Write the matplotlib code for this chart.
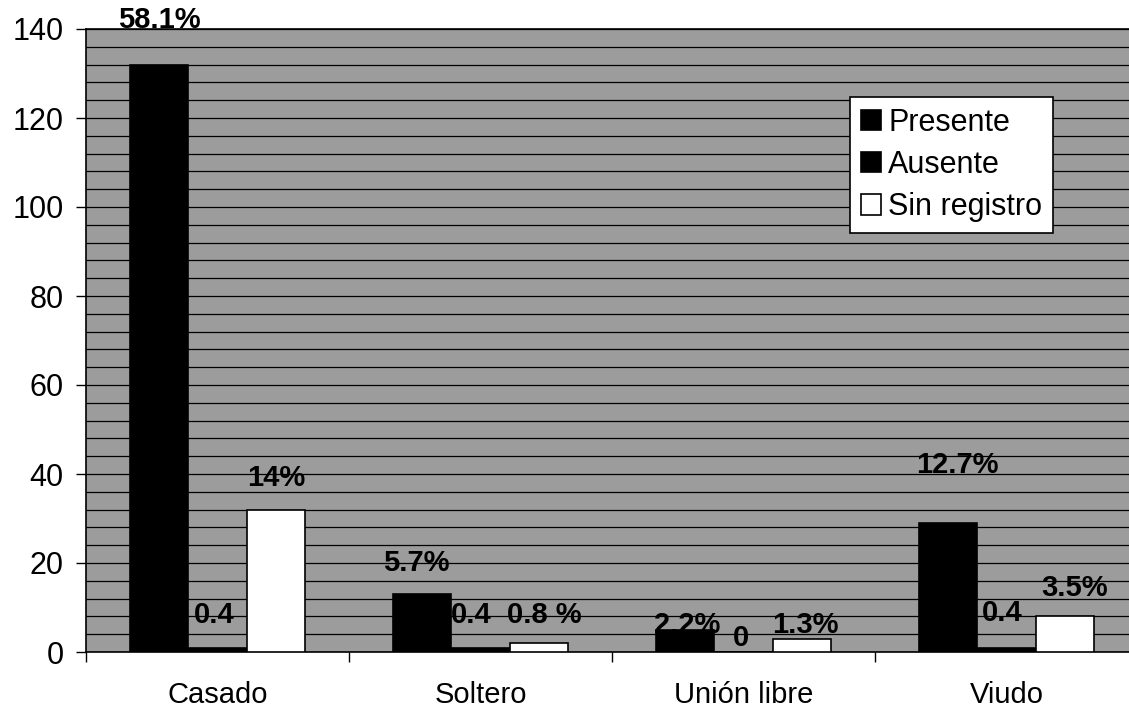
import numpy as np
import matplotlib
matplotlib.use("Agg")
import matplotlib.pyplot as plt
from matplotlib.patches import Patch

plt.rcParams['font.family'] = ['Liberation Sans', 'DejaVu Sans']

categories = ["Casado", "Soltero", "Unión libre", "Viudo"]
series_names = ["Presente", "Ausente", "Sin registro"]
presente = [132, 13, 5, 29]
ausente = [1, 1, 0, 1]
sin_registro = [32, 2, 3, 8]
labels_presente = ["58.1%", "5.7%", "2.2%", "12.7%"]
labels_ausente = ["0.4", "0.4", "0", "0.4"]
labels_sin = ["14%", "0.8 %", "1.3%", "3.5%"]

# label offsets (pixels from bar top centre)
dy_presente = [45, 31, 5, 58]
dy_ausente = [33, 33, 14, 35]
dy_sin = [32, 28, 14, 28]
dx_presente = [0, -6, 2, 9]
dx_ausente = [-3, -9, -2, -4]
dx_sin = [0, 5, 3, 10]

fig = plt.figure(figsize=(11.29, 7.10), dpi=100)
ax = fig.add_axes([86/1129, 58/710, 1052/1129, 623/710])
bg = '#9c9c9c'
ax.set_facecolor(bg)

x = np.arange(len(categories))
w = 0.222
series = [presente, ausente, sin_registro]
colors = ['black', 'black', 'white']
all_labels = [labels_presente, labels_ausente, labels_sin]
all_dy = [dy_presente, dy_ausente, dy_sin]
all_dx = [dx_presente, dx_ausente, dx_sin]
for i, (vals, col, labs, dys, dxs) in enumerate(zip(series, colors, all_labels, all_dy, all_dx)):
    xs = x + (i - 1) * w
    ax.bar(xs, vals, width=w, color=col, edgecolor='black', linewidth=1.2, zorder=3)
    for xi, v, lab, d, dx in zip(xs, vals, labs, dys, dxs):
        ax.annotate(lab, (xi, v), xytext=(dx * 0.72, d * 0.72), textcoords='offset points',
                    ha='center', va='center', fontsize=21, fontweight='bold',
                    color='black', zorder=5, annotation_clip=False)

ax.set_ylim(0, 140)
ax.set_xlim(-0.5, 3.5)
ax.set_yticks(np.arange(0, 141, 20))
ax.set_yticks(np.arange(0, 141, 4), minor=True)
ax.yaxis.grid(True, which='both', color='black', linewidth=0.9, zorder=1)
ax.set_axisbelow(True)
ax.tick_params(axis='y', which='major', labelsize=22, length=7, width=1, pad=9)
ax.tick_params(axis='y', which='minor', length=0)

ax.set_xticks([-0.5, 0.5, 1.5, 2.5])
ax.set_xticklabels([])
ax.set_xticks(x, minor=True)
ax.set_xticklabels(categories, minor=True)
ax.tick_params(axis='x', which='major', length=7, width=1, direction='out')
ax.tick_params(axis='x', which='minor', length=0, labelsize=21, pad=21)

for s in ['left', 'bottom', 'top']:
    ax.spines[s].set_color('black')
    ax.spines[s].set_linewidth(1.2)
ax.spines['right'].set_visible(False)

handles = [Patch(facecolor=c, edgecolor='black', linewidth=1.2) for c in colors]
leg = ax.legend(handles, series_names, loc='upper left',
                bbox_to_anchor=((850 - 86) / 1052, (652 - 97) / 623),
                fontsize=22, frameon=True, fancybox=False, edgecolor='black',
                framealpha=1, handlelength=0.65, handleheight=0.65, handletextpad=0.25,
                labelspacing=0.4, borderpad=0.35, borderaxespad=0)
leg.get_frame().set_linewidth(1.2)
leg.set_zorder(6)

fig.savefig("out.png", dpi=100, facecolor='white')
